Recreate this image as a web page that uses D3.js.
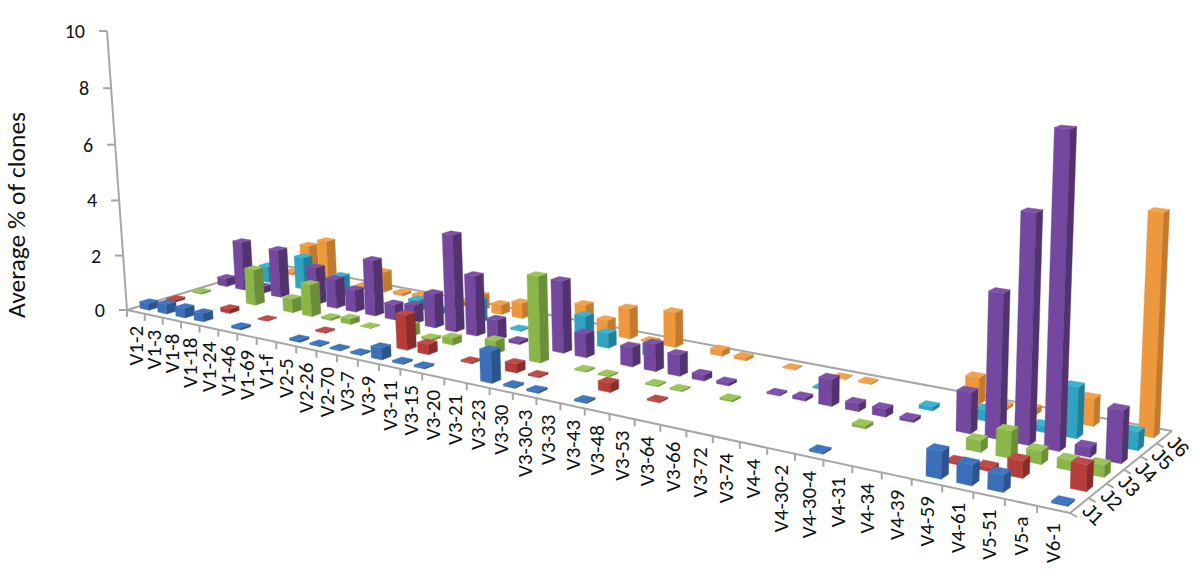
<!DOCTYPE html>
<html>
<head>
<meta charset="utf-8">
<script src="https://cdnjs.cloudflare.com/ajax/libs/d3/7.8.5/d3.min.js"></script>
<style>
  body { margin: 0; background: #fff; }
  text { font-family: Carlito, Lato, "Open Sans", sans-serif; fill: #111; }
  text.seg { font-family: "Liberation Sans", sans-serif; }
</style>
</head>
<body>
<div id="main"></div>
<script>
// category and series names
const genes = ['V1-2', 'V1-3', 'V1-8', 'V1-18', 'V1-24', 'V1-46', 'V1-69', 'V1-f', 'V2-5', 'V2-26',
  'V2-70', 'V3-7', 'V3-9', 'V3-11', 'V3-15', 'V3-20', 'V3-21', 'V3-23', 'V3-30', 'V3-30-3',
  'V3-33', 'V3-43', 'V3-48', 'V3-53', 'V3-64', 'V3-66', 'V3-72', 'V3-74', 'V4-4', 'V4-30-2',
  'V4-30-4', 'V4-31', 'V4-34', 'V4-39', 'V4-59', 'V4-61', 'V5-51', 'V5-a', 'V6-1'];
const segments = ['J1', 'J2', 'J3', 'J4', 'J5', 'J6'];
const yTicks = [0, 2, 4, 6, 8, 10];

// values, one entry per gene
const j1 = [.25, .35, .35, .3, 0, .08, 0, 0, .08, .05, .05, .05, .4, .06, .06, 0, 0, 1.05, .06, .06,
  0, .06, 0, 0, 0, 0, 0, 0, 0, 0, .06, 0, 0, 0, .8, .6, .5, 0, .06];
const j2 = [.08, 0, 0, .15, 0, .03, 0, 0, .05, 0, 0, 0, 1.2, .35, 0, .05, 0, .3, .05, 0,
  0, .3, 0, .05, 0, 0, 0, 0, 0, 0, 0, 0, 0, 0, .08, .12, .5, 0, .75];
const j3 = [.06, 0, 0, 1.3, 0, .5, 1.15, .08, .2, .03, 0, .4, .08, .25, 0, .45, 0, 2.9, 0, .05,
  .05, 0, .05, .05, 0, .06, 0, 0, 0, 0, .1, 0, 0, 0, .35, .8, .4, .3, .35];
const j4 = [.3, 1.8, .25, 1.75, 0, 1.35, 1.05, .8, 2, .55, .65, 1.2, 3.4, 2.1, .7, .1, 0, 2.45, .8, 0,
  .65, .9, .7, .2, .1, 0, .05, .1, .85, .25, .25, .1, 0, 1.25, 4.35, 6.8, 9.25, .3, 1.55];
const j5 = [0, .6, 0, 1.2, 0, .75, 0, 0, 0, .4, .2, 0, .8, 0, .05, 0, 0, .95, .5, 0,
  .4, 0, 0, 0, 0, 0, 0, .05, 0, 0, 0, .12, 0, .35, 0, .2, 1.55, 0, .55];
const j6 = [0, .1, 1.25, 1.55, 0, .1, .75, .1, .15, 0, .15, .55, .35, .55, 0, 0, .9, .5, 1.05, .05,
  1.2, 0, .2, .1, 0, .03, 0, .03, .05, 0, 0, 0, .85, .1, .2, 0, .85, 0, 6.65];
const values = [j1, j2, j3, j4, j5, j6];

// front, top and side shades per series
const colors = [
  ['#3d6fb8', '#3f75c0', '#2c5590'],
  ['#b53d3a', '#c04a46', '#8a2c2a'],
  ['#8ab548', '#9cc45a', '#6b8f38'],
  ['#74489e', '#7d52a8', '#52326f'],
  ['#2fa3c2', '#3db3d0', '#237f98'],
  ['#ee983e', '#f2a24e', '#c27a2e'],
];

// floor corners on screen: left, front, right, back
const floor = [[127, 310], [1070, 513], [1172, 431], [278, 264.5]];

// builds the perspective matrix from the floor corners and the value axis
function camera(q) {
  const [[x0, y0], [x1, y1], [x2, y2], [x3, y3]] = q;
  const dx1 = x1 - x2, dx2 = x3 - x2, sx = x0 - x1 + x2 - x3;
  const dy1 = y1 - y2, dy2 = y3 - y2, sy = y0 - y1 + y2 - y3;
  const den = dx1 * dy2 - dx2 * dy1;
  const g = (sx * dy2 - dx2 * sy) / den;
  const h = (dx1 * sy - sx * dy1) / den;
  const i = -0.00304; // makes verticals lean towards a point far below the chart
  return {
    g, h, i,
    a: x1 - x0 + g * x1, b: x3 - x0 + h * x3, c: x0,
    d: y1 - y0 + g * y1, e: y3 - y0 + h * y3, f: y0,
    az: 765 * i, bz: (31 * (1 + 10 * i) - y0) / 10,
  };
}
const cam = camera(floor);

// u along genes, v along segments, z in value units -> screen
function project(u, v, z) {
  const w = cam.g * u + cam.h * v + cam.i * z + 1;
  return [(cam.a * u + cam.b * v + cam.az * z + cam.c) / w, (cam.d * u + cam.e * v + cam.bz * z + cam.f) / w];
}

const uScale = d3.scaleBand().domain(genes).range([0, 1]);
const vScale = d3.scaleBand().domain(segments).range([0, 1]);
const zScale = d3.scaleLinear().domain([0, 10]).range([0, 10]);

function main() {
  const svg = d3.select('#main').append('svg').attr('width', 1200).attr('height', 586);
  const line = (a, b) => svg.append('line')
    .attr('x1', a[0]).attr('y1', a[1]).attr('x2', b[0]).attr('y2', b[1])
    .attr('stroke', '#a6a6a6').attr('stroke-width', 2);

  // floor outline and value axis
  line(project(0, 0, 0), project(1, 0, 0));
  line(project(1, 0, 0), project(1, 1, 0));
  line(project(0, 0, 0), project(0, 1, 0));
  line(project(0, 1, 0), project(1, 1, 0));
  line(project(0, 0, 0), project(0, 0, 10));

  yTicks.forEach((t) => {
    const p = project(0, 0, zScale(t));
    line([p[0] - 8, p[1]], p);
    svg.append('text').attr('x', p[0] - 22).attr('y', p[1] + 7)
      .attr('text-anchor', 'end').attr('font-size', 20).text(t);
  });
  svg.append('text').attr('transform', 'translate(25,215) rotate(-90)')
    .attr('text-anchor', 'middle').attr('font-size', 25.5).text('Average % of clones');

  // gene ticks and labels on the front edge
  genes.forEach((g) => {
    const a = project(uScale(g), 0, 0);
    line(a, [a[0], a[1] + 7]);
    const c = project(uScale(g) + uScale.bandwidth() / 2, 0, 0);
    svg.append('text').attr('transform', `translate(${c[0] + 7},${c[1] + 14}) rotate(-90)`)
      .attr('text-anchor', 'end').attr('font-size', 21).text(g);
  });
  // segment ticks and labels on the right edge
  segments.forEach((s) => {
    const a = project(1, vScale(s), 0);
    line(a, [a[0] + 7, a[1] + 4]);
    const c = project(1, vScale(s) + vScale.bandwidth() / 2, 0);
    svg.append('text').attr('class', 'seg')
      .attr('transform', `translate(${c[0] + 14},${c[1] + 9}) rotate(45)`)
      .attr('text-anchor', 'middle').attr('dy', '.35em')
      .attr('font-size', 20).text(s);
  });

  // bars, far row first and left to right so nearer ones cover them
  const bars = [];
  segments.forEach((s, j) => genes.forEach((g, i) => {
    if (values[j][i] > 0) bars.push({ g, s, j, i, value: values[j][i] });
  }));
  bars.sort((a, b) => b.j - a.j || a.i - b.i);

  const du = uScale.bandwidth() * 0.25;
  const dv = vScale.bandwidth() * 0.18;
  const poly = (pts) => pts.map(p => project(p[0], p[1], p[2]).map(n => n.toFixed(1)).join(',')).join(' ');
  const groups = svg.append('g').selectAll('g').data(bars).enter().append('g');
  const corners = (d) => {
    const uc = uScale(d.g) + uScale.bandwidth() / 2;
    const vc = vScale(d.s) + vScale.bandwidth() / 2;
    return { u0: uc - du, u1: uc + du, v0: vc - dv, v1: vc + dv, z: zScale(d.value) };
  };
  const face = (name, shade, pts) => groups.append('polygon')
    .attr('class', name)
    .attr('points', d => poly(pts(corners(d))))
    .attr('fill', d => colors[d.j][shade])
    .attr('stroke', d => colors[d.j][shade])
    .attr('stroke-width', 0.4);
  face('front', 0, c => [[c.u0, c.v0, 0], [c.u1, c.v0, 0], [c.u1, c.v0, c.z], [c.u0, c.v0, c.z]]);
  face('side', 2, c => [[c.u1, c.v0, 0], [c.u1, c.v1, 0], [c.u1, c.v1, c.z], [c.u1, c.v0, c.z]]);
  face('top', 1, c => [[c.u0, c.v0, c.z], [c.u1, c.v0, c.z], [c.u1, c.v1, c.z], [c.u0, c.v1, c.z]]);
}
main();
</script>
</body>
</html>
